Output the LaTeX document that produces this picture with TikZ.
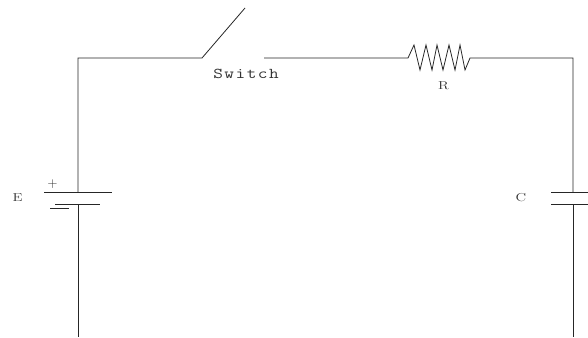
\documentclass[tikz,border=0pt]{standalone}
\usepackage{fontspec}
\setmonofont[LetterSpace=8]{Latin Modern Mono}
\begin{document}
\begin{tikzpicture}[x=1pt,y=-1pt,
  wire/.style={line width=0.8pt,black!85},
  lbl/.style={inner sep=0pt,font=\fontsize{11.5}{13}\selectfont,text=black!80},
  tlbl/.style={inner sep=0pt,font=\ttfamily\fontsize{15}{18}\selectfont,text=black!80}]
\useasboundingbox (0,0) rectangle (588,337);
% coordinates
\coordinate (lb) at (78,337);
\coordinate (lt) at (78,58);
\coordinate (sw1) at (202,58);
\coordinate (sw2) at (245,8);
\coordinate (sw3) at (264,58);
\coordinate (r1) at (408,58);
\coordinate (r2) at (470,58);
\coordinate (rt) at (573,58);
\coordinate (rb) at (573,337);
\coordinate (bp) at (78,192);
\coordinate (bn) at (78,204);
\coordinate (cp) at (573,192);
\coordinate (cn) at (573,204);
% left wire and battery
\draw[wire] (bp) -- (lt) -- (sw1) -- (sw2);
\draw[wire] (bn) -- (lb);
\draw[wire] (44,192) -- (112,192);
\draw[wire] (55,204) -- (100,204);
\draw[line width=1.6pt,black!85] (50,208.5) -- (69,208.5);
\node[lbl,font=\fontsize{13.5}{15}\selectfont] (plus) at (52.5,184) {+};
\node[lbl] (E) at (17.5,197.5) {\scalebox{1.3}[1]{E}};
% top wire and resistor
\draw[wire] (sw3) -- (r1) -- (414,45) -- (420,70) -- (426,45) -- (432,70) -- (437,45) -- (443,70) -- (449,45) -- (455,70) -- (460,45) -- (465,70) -- (r2) -- (rt) -- (cp);
\node[tlbl,anchor=base] (sw) at (246,78) {\scalebox{1.25}[1]{Switch}};
\node[lbl] (R) at (443.5,86) {\scalebox{1.3}[1]{R}};
% capacitor
\draw[wire] (551,192) -- (590,192);
\draw[wire] (551,204) -- (590,204);
\draw[wire] (cn) -- (rb);
\node[lbl] (C) at (521,198) {\scalebox{1.3}[1]{C}};
\end{tikzpicture}
\end{document}
